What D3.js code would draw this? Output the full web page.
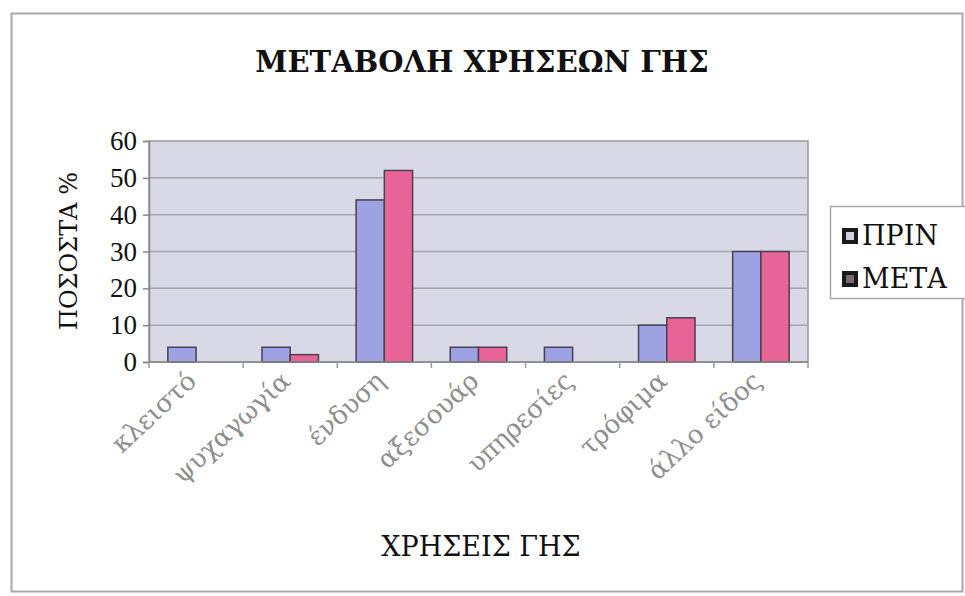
<!DOCTYPE html>
<html>
<head>
<meta charset="utf-8">
<script src="https://cdn.jsdelivr.net/npm/d3@7"></script>
<style>
  html, body { margin: 0; padding: 0; background: #fff; }
  svg { display: block; }
  text { font-family: "DejaVu Serif", "Liberation Serif", serif; }
  text.num { font-family: "Liberation Serif", serif; }
</style>
</head>
<body>
<svg id="chart" width="965" height="596"></svg>
<script>
// Land-use categories and the share (%) of each, before and after
const categories = ["κλειστό", "ψυχαγωγία", "ένδυση", "αξεσουάρ", "υπηρεσίες", "τρόφιμα", "άλλο είδος"];
const seriesNames = ["ΠΡΙΝ", "ΜΕΤΑ"];
const prinValues = [4, 4, 44, 4, 4, 10, 30];
const metaValues = [0, 2, 52, 4, 0, 12, 30];
const yTicks = [0, 10, 20, 30, 40, 50, 60];

const seriesColors = ["#9da2e3", "#e86497"];

const svg = d3.select("#chart");

// Outer chart frame
svg.append("rect")
  .attr("x", 11.5).attr("y", 13.5)
  .attr("width", 951).attr("height", 578)
  .attr("fill", "#fff")
  .attr("stroke", "#a8a8a8").attr("stroke-width", 2);

const plot = { left: 149, right: 808, top: 141, bottom: 362 };

const x0 = d3.scaleBand()
  .domain(categories)
  .range([plot.left, plot.right])
  .paddingInner(0.4)
  .paddingOuter(0.2);

const x1 = d3.scaleBand()
  .domain(seriesNames)
  .range([0, x0.bandwidth()]);

const y = d3.scaleLinear()
  .domain([0, 60])
  .range([plot.bottom, plot.top]);

// Plot background
svg.append("rect")
  .attr("x", plot.left).attr("y", plot.top)
  .attr("width", plot.right - plot.left).attr("height", plot.bottom - plot.top)
  .attr("fill", "#d8d8e6")
  .attr("stroke", "#9a9a9a").attr("stroke-width", 1.5);

// Horizontal gridlines
svg.append("g")
  .selectAll("line")
  .data(yTicks.filter(d => d > 0 && d < 60))
  .join("line")
  .attr("x1", plot.left).attr("x2", plot.right)
  .attr("y1", d => y(d)).attr("y2", d => y(d))
  .attr("stroke", "#a4a4a8").attr("stroke-width", 1.5);

// Bars
const rows = categories.map((c, i) => ({ cat: c, values: [prinValues[i], metaValues[i]] }));
const groups = svg.append("g")
  .selectAll("g")
  .data(rows)
  .join("g")
  .attr("transform", d => `translate(${x0(d.cat)},0)`);

groups.selectAll("rect")
  .data(d => d.values.map((v, k) => ({ name: seriesNames[k], value: v, k })).filter(e => e.value > 0))
  .join("rect")
  .attr("x", d => x1(d.name))
  .attr("y", d => y(d.value))
  .attr("width", x1.bandwidth())
  .attr("height", d => y(0) - y(d.value))
  .attr("fill", d => seriesColors[d.k])
  .attr("stroke", "#4a4050").attr("stroke-width", 1.5);

// Y axis
const yAxis = d3.axisLeft(y).tickValues(yTicks).tickSize(6).tickPadding(6);
const gy = svg.append("g")
  .attr("transform", `translate(${plot.left},0)`)
  .call(yAxis);
gy.select(".domain").attr("stroke", "#888").attr("stroke-width", 1.5);
gy.selectAll(".tick line").attr("stroke", "#888").attr("stroke-width", 1.5);
gy.selectAll(".tick text")
  .attr("class", "num")
  .attr("font-size", 27)
  .attr("fill", "#111");

// X axis with ticks between categories
const gx = svg.append("g")
  .attr("transform", `translate(0,${plot.bottom})`);
gx.append("line")
  .attr("x1", plot.left).attr("x2", plot.right)
  .attr("stroke", "#888").attr("stroke-width", 1.5);
const step = x0.step();
const boundaries = d3.range(categories.length + 1).map(i => plot.left + i * step);
gx.selectAll("line.tk")
  .data(boundaries)
  .join("line")
  .attr("class", "tk")
  .attr("x1", d => d).attr("x2", d => d)
  .attr("y1", 0).attr("y2", 6)
  .attr("stroke", "#999").attr("stroke-width", 1.5);

// Rotated category labels
gx.selectAll("text.cat")
  .data(categories)
  .join("text")
  .attr("class", "cat")
  .attr("transform", d => `translate(${x0(d) + x0.bandwidth() / 2 + 2},${21}) rotate(-43)`)
  .attr("text-anchor", "end")
  .attr("font-size", 26)
  .attr("fill", "#8e8e8e")
  .text(d => d);

// Title
svg.append("text")
  .attr("x", 482).attr("y", 72)
  .attr("text-anchor", "middle")
  .attr("font-size", 29)
  .attr("font-weight", "bold")
  .attr("fill", "#111")
  .text("ΜΕΤΑΒΟΛΗ ΧΡΗΣΕΩΝ ΓΗΣ");

// Axis titles
svg.append("text")
  .attr("x", 481).attr("y", 556)
  .attr("text-anchor", "middle")
  .attr("font-size", 27)
  .attr("fill", "#111")
  .text("ΧΡΗΣΕΙΣ ΓΗΣ");

svg.append("text")
  .attr("transform", `translate(77,251) rotate(-90)`)
  .attr("text-anchor", "middle")
  .attr("font-size", 24)
  .attr("fill", "#111")
  .text("ΠΟΣΟΣΤΑ %");

// Legend
const legend = svg.append("g");
legend.append("rect")
  .attr("x", 830.5).attr("y", 206.5)
  .attr("width", 140).attr("height", 92)
  .attr("fill", "#fff")
  .attr("stroke", "#a8a8a8").attr("stroke-width", 1.5);

const items = legend.selectAll("g")
  .data(seriesNames)
  .join("g")
  .attr("transform", (d, i) => `translate(842,${236 + i * 43})`);
items.append("rect")
  .attr("x", 0).attr("y", -8)
  .attr("width", 16).attr("height", 16)
  .attr("fill", "#1a1a1a");
items.append("rect")
  .attr("x", 4).attr("y", -4)
  .attr("width", 8).attr("height", 8)
  .attr("fill", (d, i) => i === 0 ? "#cfcfe0" : "#7a6a70");
items.append("text")
  .attr("x", 20).attr("y", 9)
  .attr("font-size", 27)
  .attr("fill", "#111")
  .text(d => d);
</script>
</body>
</html>
